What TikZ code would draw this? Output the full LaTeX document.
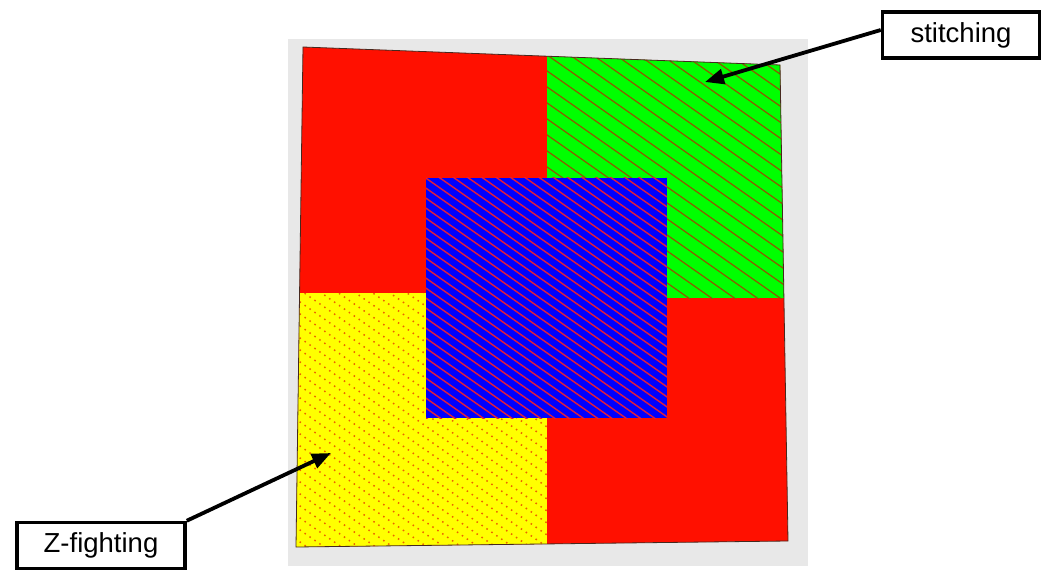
\documentclass[tikz,border=0pt]{standalone}
\usepackage{fontspec}
\setmainfont{Liberation Sans}
\usetikzlibrary{arrows.meta}
\definecolor{bggray}{RGB}{232,232,232}
\definecolor{qred}{RGB}{255,16,0}
\definecolor{qgreen}{RGB}{0,255,0}
\definecolor{qyellow}{RGB}{255,255,0}
\definecolor{qblue}{RGB}{0,0,255}
\definecolor{hatchblue}{RGB}{225,30,60}
\definecolor{hatchgreen}{RGB}{140,90,0}
\definecolor{hatchyellow}{RGB}{235,100,0}
\definecolor{edgedark}{RGB}{70,40,30}
\tikzset{
  labelbox/.style={draw=black, line width=3.5pt, fill=white, inner sep=0pt, minimum height=46pt, font=\fontsize{27.5}{32}\selectfont},
  pointer/.style={draw=black, line width=3.8pt, -{Triangle[length=19pt,width=15pt]}},
}
\begin{document}
\begin{tikzpicture}[x=1pt,y=-1pt]
\useasboundingbox (0,0) rectangle (1050,583);
\fill[white] (0,0) rectangle (1050,583);
\fill[bggray] (288,39) rectangle (808,566);
% quad
\coordinate (q1) at (303,47);
\coordinate (q2) at (780,65);
\coordinate (q3) at (788,541);
\coordinate (q4) at (296,547);
\begin{scope}
  \clip (q1) -- (q2) -- (q3) -- (q4) -- cycle;
  \fill[qred] (280,30) rectangle (810,560);
  % green
  \begin{scope}
    \clip (547,30) rectangle (810,298);
    \fill[qgreen] (547,30) rectangle (810,298);
    \foreach \c in {-520,-504,...,360}
      \draw[hatchgreen, line width=1.2pt] (280,\c+196) -- (820,\c+574);
  \end{scope}
  % yellow
  \begin{scope}
    \clip (280,293) rectangle (547,560);
    \fill[qyellow] (280,293) rectangle (547,560);
    \foreach \c in {-520,-508,...,360}
      \draw[hatchyellow, line width=1.5pt, dash pattern=on 1.5pt off 4.5pt] (280,\c+196) -- (820,\c+574);
  \end{scope}
\end{scope}
\draw[edgedark, line width=0.8pt] (q1) -- (q2) -- (q3) -- (q4) -- cycle;
% blue square
\begin{scope}
  \clip (426,178) rectangle (667,418);
  \fill[qblue] (426,178) rectangle (667,418);
  \foreach \c in {-520,-510,...,360}
    \draw[hatchblue, line width=1.4pt] (280,\c+196) -- (820,\c+574);
\end{scope}
% labels
\node[labelbox, minimum width=157pt] (stitch) at (961,35) {stitching};
\node[labelbox, minimum width=168pt] (zf) at (101,545.5) {Z-fighting};
\coordinate (stitchtip) at (705,82);
\coordinate (zftip) at (331,453);
\draw[pointer] (stitch.west |- 0,30) -- (stitchtip);
\draw[pointer] (zf.north east) -- (zftip);
\end{tikzpicture}
\end{document}
